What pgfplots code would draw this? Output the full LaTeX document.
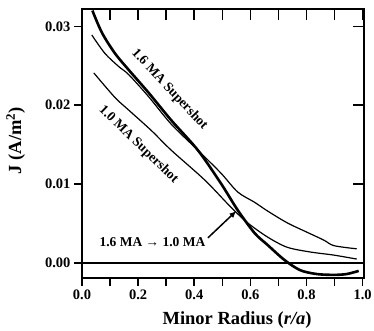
\documentclass[border=0pt]{standalone}
\usepackage{fontspec}
\setmainfont{Liberation Serif}
\usepackage{pgfplots}
\pgfplotsset{compat=1.18}
\usetikzlibrary{arrows.meta}

\begin{document}
\begin{tikzpicture}
\path[use as bounding box] (-82pt,-52pt) rectangle (292pt,278pt);
\begin{axis}[
  scale only axis, width=282pt, height=269pt,
  xmin=0, xmax=1.005, ymin=-0.0019, ymax=0.0322,
  axis line style={line width=1.5pt},
  xtick={0,0.2,0.4,0.6,0.8,1.0},
  minor xtick={0.1,0.3,0.5,0.7,0.9},
  ytick={0,0.01,0.02,0.03},
  scaled y ticks=false, scaled x ticks=false,
  xtick pos=left, ytick pos=left, tick align=outside,
  major tick length=8pt, minor tick length=8pt,
  tick style={line width=1.5pt, black},
  /pgf/number format/assume math mode=true,
  xticklabel style={font=\bfseries\fontsize{14.5}{16}\selectfont, /pgf/number format/.cd, fixed, fixed zerofill, precision=1},
  yticklabel style={font=\bfseries\fontsize{14.5}{16}\selectfont, /pgf/number format/.cd, fixed, fixed zerofill, precision=2},
  xlabel={\bfseries Minor Radius (\textit{r/a})},
  ylabel={\bfseries J (A/m\textsuperscript{2})},
  xlabel style={font=\fontsize{18.5}{20}\selectfont, at={(axis description cs:0.55,-0.156)}, anchor=center},
  ylabel style={font=\fontsize{18.5}{20}\selectfont, at={(axis description cs:-0.235,0.51)}, anchor=center},
]
% zero line
\addplot[black, line width=1.6pt] coordinates {(0,0) (1,0)};
% 1.6 MA -> 1.0 MA (thick)
\addplot[black, line width=2.6pt, smooth] coordinates {
(0.037,0.0320) (0.071,0.0292) (0.117,0.0266) (0.166,0.0245) (0.237,0.0216)
(0.318,0.0181) (0.413,0.0143) (0.495,0.0101) (0.555,0.0067) (0.615,0.0038)
(0.661,0.0023) (0.721,0.0004) (0.777,-0.0009) (0.837,-0.0014) (0.898,-0.0015)
(0.943,-0.0014) (0.986,-0.0010)};
% 1.6 MA Supershot
\addplot[black, line width=1.2pt, smooth] coordinates {
(0.035,0.0289) (0.081,0.0266) (0.131,0.0249) (0.166,0.0239) (0.237,0.0211)
(0.318,0.0176) (0.413,0.0143) (0.495,0.0114) (0.555,0.0090) (0.615,0.0077)
(0.661,0.0066) (0.731,0.0051) (0.802,0.0039) (0.862,0.0029) (0.898,0.0022)
(0.979,0.0018)};
% 1.0 MA Supershot
\addplot[black, line width=1.2pt, smooth] coordinates {
(0.042,0.0241) (0.117,0.0210) (0.166,0.0194) (0.247,0.0168) (0.318,0.0143)
(0.438,0.0105) (0.530,0.0071) (0.590,0.0051) (0.661,0.0033) (0.731,0.0020)
(0.813,0.0014) (0.898,0.0010) (0.979,0.0005)};
\node[font=\bfseries\fontsize{13.5}{15}\selectfont, rotate=-47] at (axis cs:0.312,0.0220) {1.6 MA Supershot};
\node[font=\bfseries\fontsize{13.5}{15}\selectfont, rotate=-44] at (axis cs:0.201,0.0150) {1.0 MA Supershot};
\node[font=\bfseries\fontsize{13.5}{15}\selectfont] at (axis cs:0.251,0.0027) {1.6 MA → 1.0 MA};
\draw[line width=1.5pt, -{Latex[length=7pt,width=6pt]}] (axis cs:0.449,0.0032) -- (axis cs:0.550,0.0066);
\end{axis}
\begin{axis}[
  scale only axis, width=282pt, height=269pt,
  xmin=0, xmax=1.005, ymin=-0.0019, ymax=0.0322,
  axis line style={line width=1.5pt},
  xtick={0,0.1,0.2,0.3,0.4,0.5,0.6,0.7,0.8,0.9,1.0},
  ytick={0,0.01,0.02,0.03},
  scaled y ticks=false, scaled x ticks=false,
  xtick pos=right, ytick pos=right, tick align=inside,
  major tick length=11pt,
  tick style={line width=1.5pt, black},
  xticklabels={}, yticklabels={},
]
\addplot[draw=none] coordinates {(0.5,0.01)};
\end{axis}
\end{tikzpicture}
\end{document}
